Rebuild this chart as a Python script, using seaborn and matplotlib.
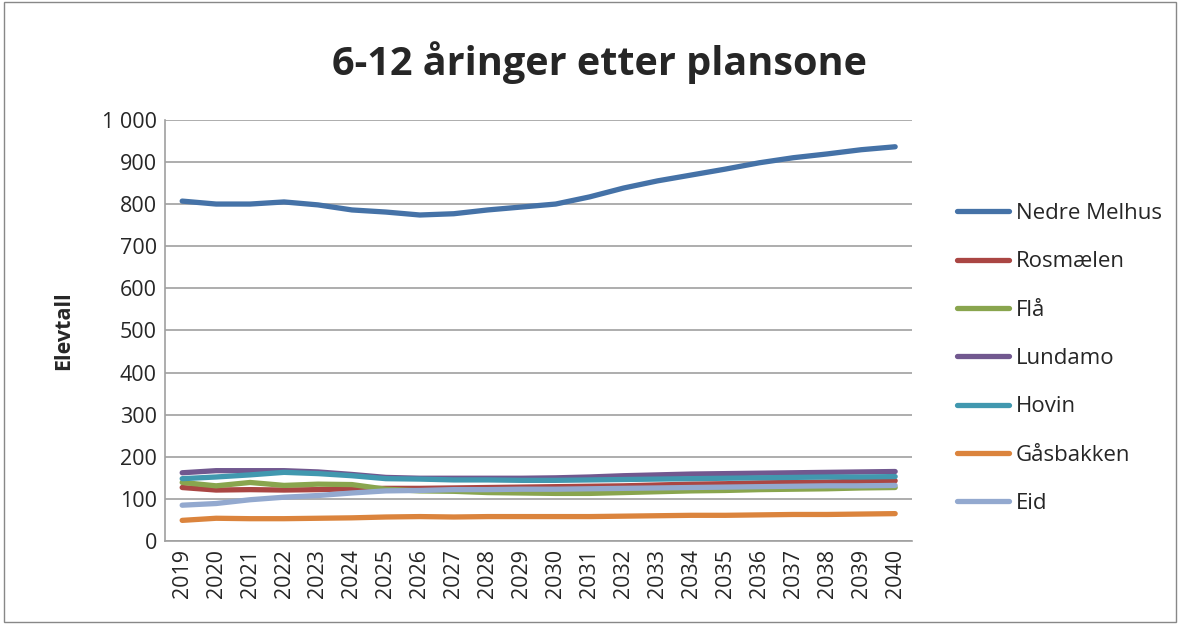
import pandas as pd
import matplotlib
matplotlib.use('Agg')
import matplotlib.pyplot as plt
import seaborn as sns

years = list(range(2019, 2041))

nedre_melhus = [807, 800, 800, 805, 798, 786, 781, 774, 777, 786, 793, 800,
                817, 838, 855, 869, 883, 898, 910, 919, 929, 936]
rosmaelen = [127, 121, 122, 121, 122, 124, 125, 125, 126, 127, 128, 129,
             130, 131, 133, 135, 136, 138, 139, 140, 142, 143]
fla = [139, 131, 139, 132, 135, 134, 123, 119, 118, 115, 114, 113,
       113, 115, 117, 119, 120, 122, 123, 124, 126, 127]
lundamo = [162, 167, 167, 167, 164, 158, 151, 149, 149, 149, 149, 150,
           152, 155, 157, 159, 160, 161, 162, 163, 164, 165]
hovin = [148, 152, 157, 163, 160, 155, 148, 147, 145, 145, 144, 144,
         145, 146, 147, 148, 149, 150, 151, 152, 152, 153]
gasbakken = [49, 54, 53, 53, 54, 55, 57, 58, 57, 58, 58, 58,
             58, 59, 60, 61, 61, 62, 63, 63, 64, 65]
eid = [85, 89, 98, 104, 108, 114, 119, 120, 122, 122, 123, 123,
       124, 125, 126, 127, 128, 129, 130, 131, 131, 132]

series_names = ['Nedre Melhus', 'Rosmælen', 'Flå', 'Lundamo', 'Hovin', 'Gåsbakken', 'Eid']
series_values = [nedre_melhus, rosmaelen, fla, lundamo, hovin, gasbakken, eid]
colors = ['#4572A7', '#AA4643', '#89A54E', '#71588F', '#4198AF', '#DB843D', '#93A9CF']

rows = []
for name, vals in zip(series_names, series_values):
    for y, v in zip(years, vals):
        rows.append({'År': y, 'Elevtall': v, 'Plansone': name})
df = pd.DataFrame(rows)

sns.set_style('white')
plt.rcParams['font.family'] = ['Open Sans', 'DejaVu Sans']

fig = plt.figure(figsize=(11.8, 6.24), dpi=100)
ax = fig.add_axes([0.14, 0.133, 0.633, 0.675])

sns.lineplot(data=df, x='År', y='Elevtall', hue='Plansone', hue_order=series_names,
             palette=colors, linewidth=3.8, ax=ax, solid_capstyle='round')

ax.set_ylim(0, 1000)
ax.set_xlim(2018.5, 2040.5)
ax.set_yticks(range(0, 1001, 100))
ax.set_yticklabels([f'{v:,}'.replace(',', ' ') for v in range(0, 1001, 100)], fontsize=15.5)
ax.set_xticks(years)
ax.set_xticklabels([str(y) for y in years], rotation=90, fontsize=15.5)
ax.yaxis.grid(True, color='#a0a0a0', linewidth=1.2)
ax.set_axisbelow(True)
for side in ['top', 'right']:
    ax.spines[side].set_visible(False)
for side in ['left', 'bottom']:
    ax.spines[side].set_color('#a0a0a0')
    ax.spines[side].set_linewidth(1.2)
ax.tick_params(axis='both', length=0, pad=6)

ax.set_xlabel('')
ax.set_ylabel('Elevtall', fontsize=15.5, fontweight='bold', labelpad=20)
fig.text(0.508, 0.9, '6-12 åringer etter plansone', ha='center', va='center',
         fontsize=28.5, fontweight='bold')

leg = ax.legend(loc='center left', bbox_to_anchor=(1.033, 0.433), frameon=False,
                fontsize=16, handlelength=2.35, labelspacing=1.23, handletextpad=0.3)
for line in leg.get_lines():
    line.set_linewidth(3.8)

fig.add_artist(plt.Rectangle((0.003, 0.003), 0.994, 0.994, transform=fig.transFigure,
                             fill=False, edgecolor='#888888', linewidth=1))

fig.savefig('out.png', dpi=100)
